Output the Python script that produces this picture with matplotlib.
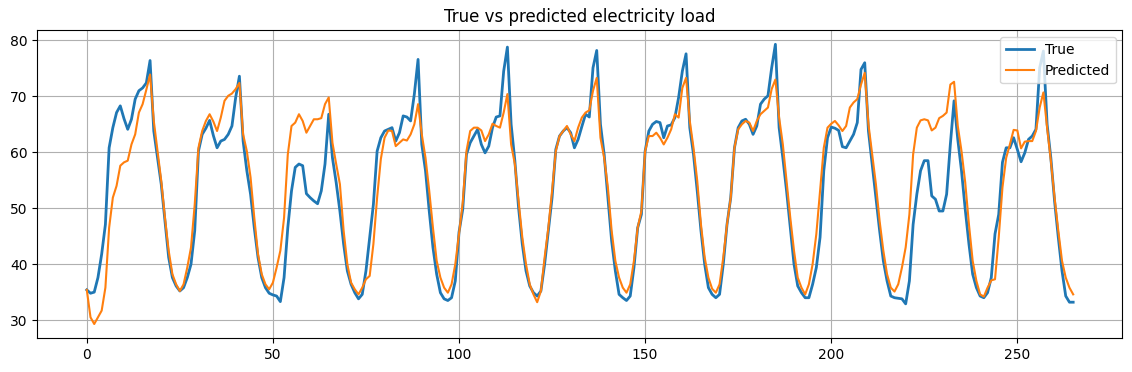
import numpy as np
import matplotlib
matplotlib.use("Agg")
import matplotlib.pyplot as plt

# hourly load, true vs model prediction (266 steps)
true_load = [
    35.4, 34.8, 35.0, 37.6, 41.8, 47.1, 60.8, 64.4, 67.1, 68.3,
    66.0, 64.1, 65.9, 69.5, 71.0, 71.5, 72.4, 76.4, 63.8, 59.0,
    54.3, 47.7, 41.2, 37.6, 36.1, 35.2, 35.8, 37.6, 40.0, 46.0,
    60.2, 63.2, 64.3, 65.7, 63.0, 60.8, 62.0, 62.3, 63.2, 64.7,
    69.8, 73.6, 62.0, 56.7, 52.5, 46.5, 41.2, 37.6, 35.8, 34.8,
    34.5, 34.3, 33.3, 37.6, 46.5, 53.1, 57.3, 57.9, 57.6, 52.6,
    51.9, 51.3, 50.8, 53.1, 57.9, 66.8, 59.0, 54.6, 49.5, 43.6,
    38.8, 36.4, 34.9, 33.8, 34.6, 38.8, 44.8, 50.7, 60.2, 62.6,
    63.8, 64.1, 64.4, 62.0, 63.5, 66.5, 66.3, 65.6, 70.4, 76.6,
    61.4, 56.7, 49.5, 43.0, 38.2, 34.9, 33.8, 33.5, 34.0, 37.0,
    45.7, 49.8, 59.6, 61.7, 62.9, 64.1, 61.4, 59.9, 61.1, 64.4,
    66.3, 66.5, 74.5, 78.8, 65.0, 58.5, 50.1, 43.6, 38.8, 36.1,
    34.9, 34.3, 35.2, 40.0, 46.0, 51.9, 60.5, 62.9, 63.8, 64.4,
    63.5, 60.8, 62.3, 64.6, 66.8, 66.3, 75.1, 78.2, 65.0, 59.6,
    51.9, 44.2, 38.8, 34.6, 34.0, 33.5, 34.3, 39.4, 46.5, 48.9,
    60.2, 63.8, 65.0, 65.5, 65.3, 62.6, 64.7, 64.9, 66.2, 69.8,
    74.5, 77.6, 64.4, 59.6, 53.1, 46.0, 40.0, 35.8, 34.6, 34.0,
    34.6, 40.0, 47.1, 51.9, 60.8, 64.4, 65.6, 65.9, 65.0, 63.2,
    64.7, 68.6, 69.5, 70.1, 75.1, 79.3, 64.4, 59.0, 53.1, 46.5,
    40.0, 36.1, 34.9, 34.0, 34.0, 36.4, 39.4, 44.8, 56.7, 62.6,
    64.5, 64.3, 63.9, 61.0, 60.8, 62.0, 63.2, 65.3, 74.8, 76.0,
    63.8, 57.9, 51.9, 46.0, 40.6, 37.0, 34.3, 34.0, 33.9, 33.8,
    32.9, 37.0, 47.1, 52.5, 56.7, 58.5, 58.5, 52.2, 51.6, 49.5,
    49.5, 52.5, 61.4, 69.2, 62.3, 56.7, 49.8, 43.6, 38.2, 35.8,
    34.3, 34.0, 34.9, 37.6, 45.4, 48.9, 58.2, 60.8, 60.8, 62.6,
    60.5, 58.3, 59.9, 62.3, 62.9, 64.1, 75.1, 78.1, 65.0, 59.0,
    51.3, 44.8, 38.8, 34.3, 33.2, 33.2,
]

pred_load = [
    35.4, 30.5, 29.3, 30.5, 31.7, 35.8, 46.5, 51.9, 54.0, 57.6,
    58.2, 58.5, 61.4, 63.2, 67.1, 68.6, 71.2, 73.9, 65.6, 60.2,
    54.9, 48.3, 42.4, 38.2, 36.4, 35.2, 36.4, 39.4, 43.0, 50.7,
    60.8, 63.8, 65.6, 66.8, 65.5, 63.8, 66.2, 69.2, 70.1, 70.5,
    71.3, 72.4, 63.2, 60.2, 55.5, 48.3, 41.8, 38.2, 36.4, 35.5,
    36.7, 39.4, 42.4, 48.3, 59.6, 64.7, 65.3, 66.8, 65.6, 63.5,
    64.7, 65.9, 65.9, 66.1, 68.6, 69.8, 61.7, 57.9, 54.3, 46.0,
    40.0, 36.7, 35.5, 34.6, 35.8, 37.3, 37.9, 43.6, 51.9, 58.8,
    62.6, 63.9, 63.8, 61.1, 61.7, 62.3, 62.1, 63.2, 65.0, 68.6,
    63.2, 59.0, 53.1, 46.5, 40.6, 37.6, 35.8, 34.9, 36.4, 40.0,
    45.4, 51.0, 60.2, 63.8, 64.4, 64.4, 63.9, 62.0, 63.2, 65.1,
    64.7, 64.4, 67.1, 70.4, 61.4, 57.9, 51.3, 44.8, 40.0, 36.4,
    34.6, 33.2, 35.2, 41.2, 46.5, 53.1, 60.2, 62.9, 63.8, 64.7,
    63.2, 62.0, 64.4, 66.2, 67.1, 67.5, 71.0, 73.3, 62.6, 59.0,
    53.7, 46.0, 40.6, 37.6, 35.8, 34.9, 36.4, 40.6, 46.5, 49.5,
    60.2, 62.9, 62.9, 63.5, 62.6, 61.4, 62.6, 64.1, 66.8, 66.2,
    71.5, 73.3, 65.6, 60.8, 54.9, 47.1, 41.2, 37.6, 35.6, 34.9,
    36.4, 41.2, 47.1, 51.9, 60.8, 64.1, 65.0, 65.6, 65.3, 63.8,
    65.6, 66.8, 67.4, 68.0, 71.3, 73.0, 66.2, 61.4, 54.9, 48.3,
    42.4, 37.6, 35.8, 34.6, 36.4, 40.0, 45.4, 53.1, 60.8, 64.4,
    65.1, 65.6, 64.8, 63.8, 64.7, 68.0, 68.9, 69.5, 72.1, 74.2,
    65.0, 59.6, 54.3, 47.7, 42.4, 38.2, 35.8, 35.1, 36.4, 39.4,
    43.0, 48.9, 59.6, 64.4, 65.7, 65.9, 65.7, 63.9, 64.4, 66.1,
    66.5, 67.1, 72.1, 72.6, 64.7, 60.2, 54.6, 47.1, 40.6, 37.0,
    34.6, 34.2, 35.8, 37.1, 37.3, 44.8, 53.7, 59.0, 61.4, 64.0,
    63.9, 60.7, 61.9, 62.0, 62.0, 63.8, 68.0, 70.7, 64.4, 58.5,
    51.9, 46.0, 40.6, 37.6, 35.8, 34.6,
]

fig, ax = plt.subplots(figsize=(11.32, 3.72), dpi=100)
fig.subplots_adjust(left=0.0331, right=0.9916, top=0.9185, bottom=0.0914)

ax.plot(true_load, label="True", linewidth=2)
ax.plot(pred_load, label="Predicted")
ax.set_title("True vs predicted electricity load")
ax.grid(True)
ax.legend(loc="upper right")

fig.savefig("out.png", dpi=100)
